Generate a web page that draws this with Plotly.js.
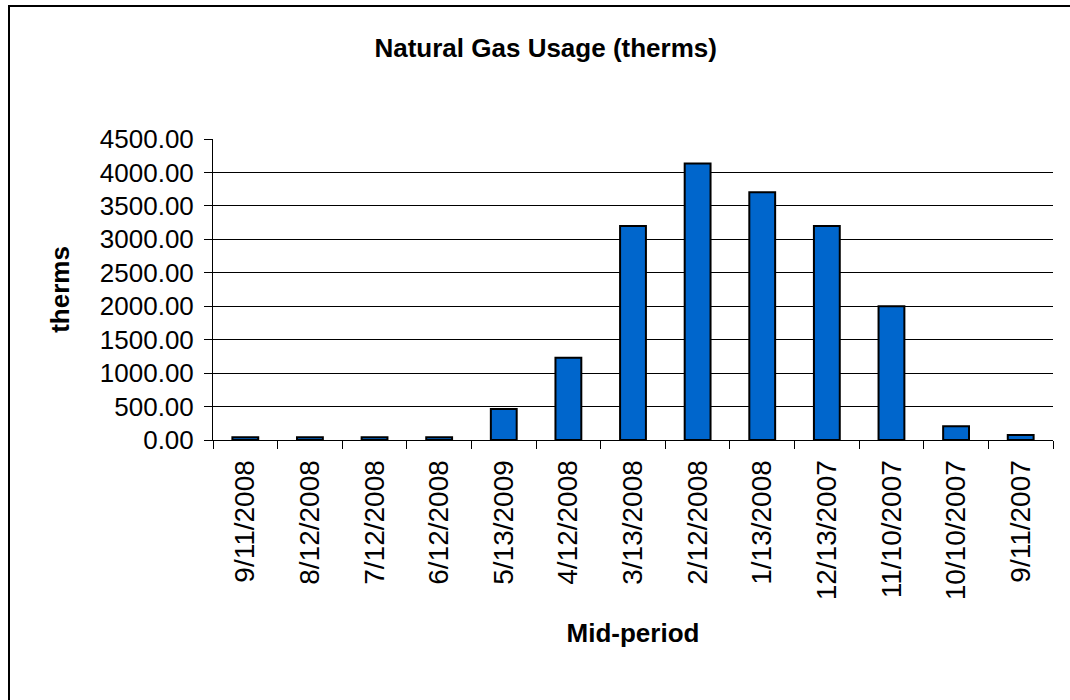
<!DOCTYPE html>
<html>
<head>
<meta charset="utf-8">
<script src="https://cdn.plot.ly/plotly-3.0.1.min.js"></script>
<style>
  html, body { margin: 0; padding: 0; background: #fff; }
  #wrap { position: relative; width: 1070px; height: 700px; }
  #chart { width: 1070px; height: 700px; }
  #frame { position: absolute; left: 8px; top: 5px; width: 1080px; height: 710px;
           border-left: 2px solid #000; border-top: 2px solid #000; pointer-events: none; }
</style>
</head>
<body>
<div id="wrap">
  <div id="chart"></div>
  <div id="frame"></div>
</div>
<script>
const categories = ["9/11/2008", "8/12/2008", "7/12/2008", "6/12/2008", "5/13/2009", "4/12/2008",
                    "3/13/2008", "2/12/2008", "1/13/2008", "12/13/2007", "11/10/2007", "10/10/2007", "9/11/2007"];
const therms = [40, 40, 40, 40, 465, 1230, 3200, 4135, 3705, 3200, 2000, 205, 75];
const yTickValues = [0, 500, 1000, 1500, 2000, 2500, 3000, 3500, 4000, 4500];

const font = "Liberation Sans, Arial, sans-serif";

const trace = {
  type: "bar",
  x: categories,
  y: therms,
  marker: { color: "#0066CC", line: { color: "#000000", width: 2 } },
  hoverinfo: "x+y"
};

const layout = {
  width: 1070,
  height: 700,
  paper_bgcolor: "#ffffff",
  plot_bgcolor: "#ffffff",
  margin: { l: 213, r: 17, t: 139, b: 260 },
  bargap: 0.6,
  showlegend: false,
  font: { family: font, color: "#000", size: 26 },
  title: {
    text: "<b>Natural Gas Usage (therms)</b>",
    font: { family: font, size: 26, color: "#000" },
    x: 0.51, xref: "container", xanchor: "center",
    y: 0.931, yref: "container", yanchor: "middle"
  },
  xaxis: {
    type: "category",
    showline: true, linecolor: "#000", linewidth: 1,
    ticks: "outside", tickson: "boundaries", ticklen: 8, tickcolor: "#000",
    tickangle: -90,
    ticklabelstandoff: 8,
    tickfont: { family: font, size: 28, color: "#000" },
    showgrid: false,
    title: { text: "<b>Mid-period</b>", font: { family: font, size: 26, color: "#000" }, standoff: 24 }
  },
  yaxis: {
    range: [0, 4500],
    tickvals: yTickValues,
    tickformat: ".2f",
    showline: true, linecolor: "#000", linewidth: 1,
    ticks: "outside", ticklen: 8, tickcolor: "#000",
    ticklabelstandoff: 5,
    tickfont: { family: font, size: 26, color: "#000" },
    showgrid: true, gridcolor: "#000", gridwidth: 1,
    zeroline: false,
    title: { text: "<b>therms</b>", font: { family: font, size: 26, color: "#000" }, standoff: 22 }
  }
};

Plotly.newPlot("chart", [trace], layout, { displayModeBar: false, staticPlot: true });
</script>
</body>
</html>
